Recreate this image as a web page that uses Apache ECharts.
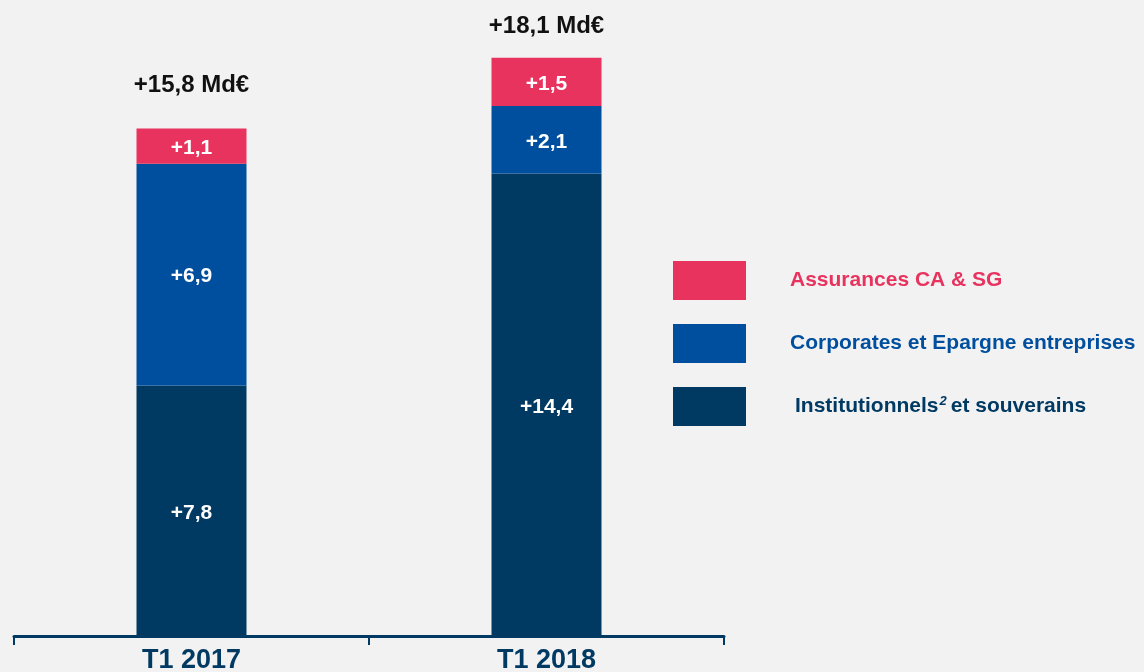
<!DOCTYPE html>
<html>
<head>
<meta charset="utf-8">
<script src="https://cdn.jsdelivr.net/npm/echarts@6/dist/echarts.min.js"></script>
<style>
  html, body { margin: 0; padding: 0; background: #f2f2f2; }
  #chart { width: 1144px; height: 672px; }
</style>
</head>
<body>
<div id="chart"></div>
<script>
// données
var categories = ['T1 2017', 'T1 2018'];
var institutionnels = [7.8, 14.4];
var corporates = [6.9, 2.1];
var assurances = [1.1, 1.5];
var totals = [15.8, 18.1];

var names = ['Institutionnels et souverains', 'Corporates et Epargne entreprises', 'Assurances CA & SG'];
var colors = ['#003a63', '#004f9f', '#e8335f'];

function fmt(v) {
    return '+' + v.toFixed(1).replace('.', ',');
}

var myChart = echarts.init(document.getElementById('chart'));

var innerLabel = {
    show: true,
    position: 'inside',
    color: '#fff',
    fontFamily: 'Liberation Sans, Arial, sans-serif',
    fontWeight: 'bold',
    fontSize: 21,
    offset: [0, 2],
    formatter: function (p) { return fmt(p.value); }
};

myChart.setOption({
    backgroundColor: '#f2f2f2',
    animation: false,
    grid: {left: 14, right: 420, top: 0, bottom: 36, outerBoundsMode: 'none', containLabel: false},
    xAxis: {
        type: 'category',
        data: categories,
        axisLine: {lineStyle: {color: '#003a63', width: 3}},
        axisTick: {show: true, length: 9, lineStyle: {color: '#003a63', width: 2}},
        axisLabel: {
            color: '#003a63',
            fontFamily: 'Liberation Sans Narrow, Arial Narrow, Liberation Sans, sans-serif',
            fontWeight: 'bold',
            fontSize: 27,
            margin: 11
        }
    },
    yAxis: {
        type: 'value',
        min: 0,
        max: 19.8,
        show: false,
        splitLine: {show: false}
    },
    legend: {
        orient: 'vertical',
        left: 673,
        top: 261,
        padding: 0,
        itemWidth: 73,
        itemHeight: 39,
        itemGap: 24,
        icon: 'rect',
        data: [names[2], names[1], names[0]],
        formatter: function (name) {
            if (name == names[2]) return '{p|' + name + '}';
            if (name == names[1]) return '{b|' + name + '}';
            return '{i|Institutionnels}{s|2}{d|et souverains}';
        },
        textStyle: {
            fontFamily: 'Liberation Sans, Arial, sans-serif',
            fontWeight: 'bold',
            fontSize: 21,
            rich: {
                p: {color: '#e8335f', fontWeight: 'bold', fontSize: 21, padding: [0, 0, 0, 39]},
                b: {color: '#004f9f', fontWeight: 'bold', fontSize: 21, padding: [0, 0, 0, 39]},
                i: {color: '#003a63', fontWeight: 'bold', fontSize: 21, padding: [0, 0, 0, 44]},
                d: {color: '#003a63', fontWeight: 'bold', fontSize: 21},
                s: {color: '#003a63', fontWeight: 'bold', fontStyle: 'italic', fontSize: 13, verticalAlign: 'top', padding: [0, 4, 10, 1]}
            }
        }
    },
    series: [
        {
            name: names[0], type: 'bar', stack: 'total', barWidth: 110,
            itemStyle: {color: colors[0]},
            label: innerLabel,
            data: institutionnels
        },
        {
            name: names[1], type: 'bar', stack: 'total', barWidth: 110,
            itemStyle: {color: colors[1]},
            label: innerLabel,
            data: corporates
        },
        {
            name: names[2], type: 'bar', stack: 'total', barWidth: 110,
            itemStyle: {color: colors[2]},
            label: innerLabel,
            data: assurances
        },
        {
            name: 'total', type: 'bar', stack: 'total', barWidth: 110,
            itemStyle: {color: 'transparent'},
            label: {
                show: true,
                position: 'top',
                color: '#111',
                fontFamily: 'Liberation Sans, Arial, sans-serif',
                fontWeight: 'bold',
                fontSize: 24,
                formatter: function (p) { return fmt(totals[p.dataIndex]) + ' Md€'; }
            },
            data: [
                {value: 0, label: {distance: 31}},
                {value: 0, label: {distance: 19}}
            ]
        }
    ]
});
</script>
</body>
</html>
